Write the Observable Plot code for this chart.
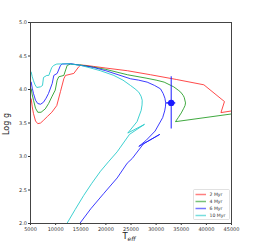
<!DOCTYPE html>
<html><head><meta charset="utf-8">
<script src="https://cdn.jsdelivr.net/npm/d3@7"></script>
<script src="https://cdn.jsdelivr.net/npm/@observablehq/plot@0.6"></script>
<style>body{margin:0;background:#fff} svg{display:block}</style>
</head><body><div id="chart"></div>
<script>
const ages = ["2 Myr", "4 Myr", "6 Myr", "10 Myr"];
const colors = ["#ff2a2a", "#1f9a1f", "#1a1aff", "#1cc8c8"];

const teff2 = [5140, 5350, 5600, 6000, 6450, 7000, 7590, 8400, 9240, 10230, 10970, 11630, 11960, 13620, 14610, 14950, 16000, 17500, 20000, 24300, 28900, 34000, 39500, 43600, 42900, 45000];
const logg2 = [3.86, 3.74, 3.64, 3.53, 3.49, 3.50, 3.54, 3.60, 3.66, 3.76, 3.97, 4.16, 4.21, 4.24, 4.34, 4.365, 4.36, 4.345, 4.32, 4.28, 4.22, 4.15, 4.07, 3.82, 3.655, 3.68];

const teff4 = [5140, 5350, 5600, 6000, 6450, 7100, 7930, 8600, 9240, 9920, 10310, 10630, 11630, 12300, 12960, 15000, 17500, 20000, 24300, 28000, 30000, 31600, 33500, 34400, 34900, 35400, 35600, 35850, 35750, 35500, 35000, 34400, 33850, 45000];
const logg4 = [4.01, 3.92, 3.84, 3.72, 3.66, 3.66, 3.71, 3.79, 3.89, 3.99, 4.14, 4.19, 4.21, 4.36, 4.38, 4.365, 4.335, 4.30, 4.22, 4.17, 4.14, 4.11, 4.04, 3.99, 3.96, 3.91, 3.88, 3.80, 3.76, 3.72, 3.65, 3.58, 3.52, 3.635];

const teff6 = [5140, 5350, 5600, 6000, 6450, 7000, 7590, 8100, 8580, 9320, 9640, 10310, 10970, 11310, 13000, 15000, 17500, 20000, 24900, 26500, 28220, 29700, 30870, 31400, 31750, 31900, 31850, 31700, 31300, 29800, 28000, 26550, 30730, 27490, 25240, 24240, 22250, 19600, 17000, 14800];
const logg6 = [4.11, 4.02, 3.94, 3.84, 3.79, 3.78, 3.81, 3.87, 3.94, 4.09, 4.21, 4.24, 4.36, 4.38, 4.385, 4.36, 4.33, 4.28, 4.16, 4.14, 4.11, 4.06, 4.01, 3.94, 3.87, 3.80, 3.74, 3.68, 3.58, 3.38, 3.24, 3.15, 3.33, 3.19, 2.97, 2.90, 2.68, 2.45, 2.22, 2.0];

const teff10 = [5140, 5350, 5600, 5900, 6250, 6990, 7390, 7590, 8240, 8640, 9240, 9640, 10230, 12500, 15000, 17000, 18930, 21580, 23400, 24900, 25800, 26550, 27000, 27230, 27200, 27030, 26200, 24360, 27690, 24700, 22910, 22250, 20500, 18930, 17200, 15600, 13900, 12250];
const logg10 = [4.26, 4.19, 4.13, 4.07, 4.03, 4.04, 4.06, 4.18, 4.21, 4.21, 4.33, 4.36, 4.38, 4.385, 4.36, 4.32, 4.28, 4.21, 4.14, 4.06, 4.01, 3.96, 3.90, 3.84, 3.77, 3.69, 3.52, 3.35, 3.48, 3.33, 3.14, 3.07, 2.92, 2.78, 2.60, 2.42, 2.21, 2.0];

const starTeff = [33000];
const starLogg = [3.80];
const starTeffErr = [900];
const starLoggErr = [0.39];

const xTicks = [5000, 10000, 15000, 20000, 25000, 30000, 35000, 40000, 45000];
const yTicks = [2.0, 2.5, 3.0, 3.5, 4.0, 4.5, 5.0];

const tracks = [[teff2, logg2], [teff4, logg4], [teff6, logg6], [teff10, logg10]];
const rows = tracks.flatMap(([t, g], i) => t.map((v, j) => ({teff: v, logg: g[j], age: ages[i]})));
const star = starTeff.map((t, i) => ({teff: t, logg: starLogg[i], te: starTeffErr[i], ge: starLoggErr[i]}));

const font = "DejaVu Sans, sans-serif";
const plot = Plot.plot({
  width: 255, height: 243,
  marginLeft: 30, marginRight: 24, marginTop: 22, marginBottom: 20,
  style: {fontFamily: font, fontSize: "5px", color: "#333", background: "#fff"},
  x: {domain: [5000, 45000]},
  y: {domain: [2, 5]},
  color: {domain: ages, range: colors},
  marks: [
    Plot.axisX({ticks: xTicks, tickFormat: d3.format("d"), tickSize: 2, tickPadding: 1.5, label: null, fontSize: 5}),
    Plot.axisY({ticks: yTicks, tickFormat: d3.format(".1f"), tickSize: 2, tickPadding: 1.5, label: null, fontSize: 5}),
    Plot.line(rows, {x: "teff", y: "logg", z: "age", stroke: "age", curve: "linear", strokeWidth: 1, strokeOpacity: 0.85, clip: true}),
    Plot.ruleX(star, {x: "teff", y1: d => d.logg - d.ge, y2: d => d.logg + d.ge, stroke: "#1a1aff", strokeWidth: 1}),
    Plot.ruleY(star, {y: "logg", x1: d => d.teff - d.te, x2: d => d.teff + d.te, stroke: "#1a1aff", strokeWidth: 1.5}),
    Plot.dot(star, {x: "teff", y: "logg", r: 3.2, fill: "#1a1aff", stroke: "none"}),
    Plot.frame({stroke: "#444", strokeWidth: 1})
  ]
});

const svg = d3.select(plot);
svg.append("text")
  .attr("transform", "translate(9,124) rotate(-90)")
  .attr("text-anchor", "middle")
  .attr("font-family", font).attr("font-size", 8).attr("fill", "#222")
  .text("Log g");
const xt = svg.append("text")
  .attr("x", 129).attr("y", 239)
  .attr("text-anchor", "middle")
  .attr("font-family", font).attr("font-size", 8.5).attr("fill", "#222");
xt.append("tspan").text("T");
xt.append("tspan").attr("dy", 2).attr("font-size", 6).attr("font-style", "italic").text("eff");

const lg = svg.append("g");
lg.append("rect").attr("x", 193.5).attr("y", 189.5).attr("width", 36).attr("height", 30)
  .attr("fill", "#fff").attr("stroke", "#ccc").attr("stroke-width", 0.6).attr("rx", 1);
ages.forEach((a, i) => {
  const y = 194.5 + i * 7;
  lg.append("line").attr("x1", 195.5).attr("x2", 206).attr("y1", y).attr("y2", y)
    .attr("stroke", colors[i]).attr("stroke-width", 1.5).attr("stroke-opacity", 0.6);
  lg.append("text").attr("x", 209.5).attr("y", y + 1.7).attr("text-anchor", "start")
    .attr("font-family", font).attr("font-size", 4.6).attr("fill", "#333").text(a);
});

document.getElementById("chart").appendChild(plot);
</script>
</body></html>
